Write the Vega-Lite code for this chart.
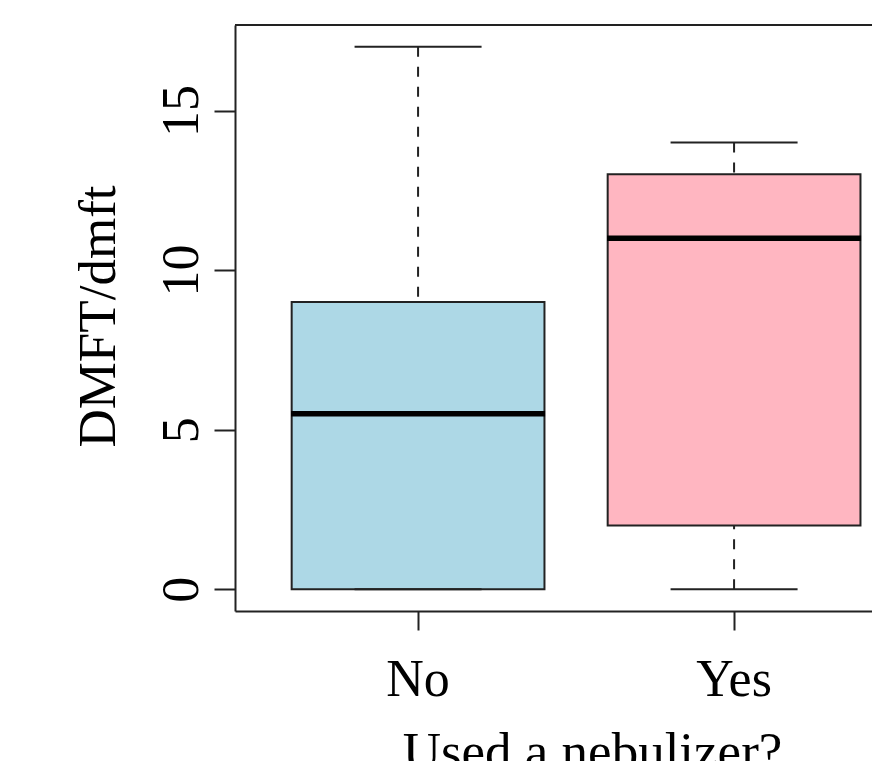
{
  "$schema": "https://vega.github.io/schema/vega-lite/v6.json",
  "width": 637,
  "height": 586,
  "autosize": {"type": "none"},
  "padding": {"left": 235, "top": 25, "right": 0, "bottom": 150},
  "background": "white",
  "config": {
    "view": {"stroke": null},
    "font": "Liberation Serif",
    "axisX": {
      "grid": false, "domain": true, "domainColor": "#222222", "domainWidth": 2,
      "ticks": true, "tickSize": 19, "tickColor": "#222222", "tickWidth": 2,
      "labelFont": "Liberation Serif", "labelFontSize": 52, "labelColor": "black",
      "labelAngle": 0, "labelAlign": "center", "labelBaseline": "alphabetic", "labelPadding": 65,
      "titleFont": "Liberation Serif", "titleFontSize": 53, "titleFontWeight": "normal", "titleColor": "black",
      "titleAlign": "center", "titleBaseline": "alphabetic", "titleX": 357, "titleY": 157
    },
    "axisY": {
      "grid": false, "domain": true, "domainColor": "#222222", "domainWidth": 2,
      "ticks": true, "tickSize": 21, "tickColor": "#222222", "tickWidth": 2,
      "labelFont": "Liberation Serif", "labelFontSize": 52, "labelColor": "black",
      "labelAngle": -90, "labelAlign": "center", "labelBaseline": "alphabetic", "labelPadding": 17,
      "labelFlush": false, "labelOverlap": false,
      "titleFont": "Liberation Serif", "titleFontSize": 53, "titleFontWeight": "normal", "titleColor": "black",
      "titleAngle": -90, "titleAlign": "center", "titleBaseline": "alphabetic", "titleX": -121, "titleY": 291
    }
  },
  "data": {
    "values": [
      {"group": "No", "lo": 0, "q1": 0, "med": 5.5, "q3": 9, "hi": 17},
      {"group": "Yes", "lo": 0, "q1": 2, "med": 11, "q3": 13, "hi": 14}
    ]
  },
  "layer": [
    {
      "mark": {"type": "rule", "strokeDash": [10, 10], "strokeWidth": 2, "color": "#222222"},
      "encoding": {
        "x": {"field": "group", "type": "nominal", "scale": {"type": "band", "domain": ["No", "Yes"], "paddingInner": 0.2, "paddingOuter": 0.1079, "align": 0.831}, "axis": {"title": "Used a nebulizer?"}},
        "y": {"field": "hi", "type": "quantitative", "scale": {"domain": [-0.68, 17.68], "nice": false, "zero": false}, "axis": {"title": "DMFT/dmft", "values": [0, 5, 10, 15]}},
        "y2": {"field": "q3"}
      }
    },
    {
      "mark": {"type": "rule", "strokeDash": [10, 10], "strokeWidth": 2, "color": "#222222"},
      "encoding": {
        "x": {"field": "group", "type": "nominal", "scale": {"type": "band", "domain": ["No", "Yes"], "paddingInner": 0.2, "paddingOuter": 0.1079, "align": 0.831}, "axis": {"title": "Used a nebulizer?"}},
        "y": {"field": "lo", "type": "quantitative", "scale": {"domain": [-0.68, 17.68], "nice": false, "zero": false}, "axis": {"title": "DMFT/dmft", "values": [0, 5, 10, 15]}},
        "y2": {"field": "q1"}
      }
    },
    {
      "mark": {"type": "bar", "stroke": "#222222", "strokeWidth": 2, "opacity": 1},
      "encoding": {
        "x": {"field": "group", "type": "nominal", "scale": {"type": "band", "domain": ["No", "Yes"], "paddingInner": 0.2, "paddingOuter": 0.1079, "align": 0.831}, "axis": {"title": "Used a nebulizer?"}},
        "y": {"field": "q1", "type": "quantitative", "scale": {"domain": [-0.68, 17.68], "nice": false, "zero": false}, "axis": {"title": "DMFT/dmft", "values": [0, 5, 10, 15]}},
        "y2": {"field": "q3"},
        "fill": {"field": "group", "type": "nominal", "scale": {"domain": ["No", "Yes"], "range": ["#ADD8E6", "#FFB6C1"]}, "legend": null}
      }
    },
    {
      "mark": {"type": "tick", "orient": "horizontal", "size": 254, "thickness": 5.5, "color": "black", "opacity": 1},
      "encoding": {
        "x": {"field": "group", "type": "nominal", "scale": {"type": "band", "domain": ["No", "Yes"], "paddingInner": 0.2, "paddingOuter": 0.1079, "align": 0.831}, "axis": {"title": "Used a nebulizer?"}},
        "y": {"field": "med", "type": "quantitative", "scale": {"domain": [-0.68, 17.68], "nice": false, "zero": false}, "axis": {"title": "DMFT/dmft", "values": [0, 5, 10, 15]}}
      }
    },
    {
      "mark": {"type": "tick", "orient": "horizontal", "size": 127, "thickness": 2, "color": "#222222", "opacity": 1},
      "encoding": {
        "x": {"field": "group", "type": "nominal", "scale": {"type": "band", "domain": ["No", "Yes"], "paddingInner": 0.2, "paddingOuter": 0.1079, "align": 0.831}, "axis": {"title": "Used a nebulizer?"}},
        "y": {"field": "hi", "type": "quantitative", "scale": {"domain": [-0.68, 17.68], "nice": false, "zero": false}, "axis": {"title": "DMFT/dmft", "values": [0, 5, 10, 15]}}
      }
    },
    {
      "mark": {"type": "tick", "orient": "horizontal", "size": 127, "thickness": 2, "color": "#222222", "opacity": 1},
      "encoding": {
        "x": {"field": "group", "type": "nominal", "scale": {"type": "band", "domain": ["No", "Yes"], "paddingInner": 0.2, "paddingOuter": 0.1079, "align": 0.831}, "axis": {"title": "Used a nebulizer?"}},
        "y": {"field": "lo", "type": "quantitative", "scale": {"domain": [-0.68, 17.68], "nice": false, "zero": false}, "axis": {"title": "DMFT/dmft", "values": [0, 5, 10, 15]}}
      }
    },
    {
      "mark": {"type": "rule", "strokeWidth": 2, "color": "#222222"},
      "encoding": {
        "y": {"datum": 17.68, "type": "quantitative", "scale": {"domain": [-0.68, 17.68], "nice": false, "zero": false}, "axis": {"title": "DMFT/dmft", "values": [0, 5, 10, 15]}}
      }
    }
  ]
}
